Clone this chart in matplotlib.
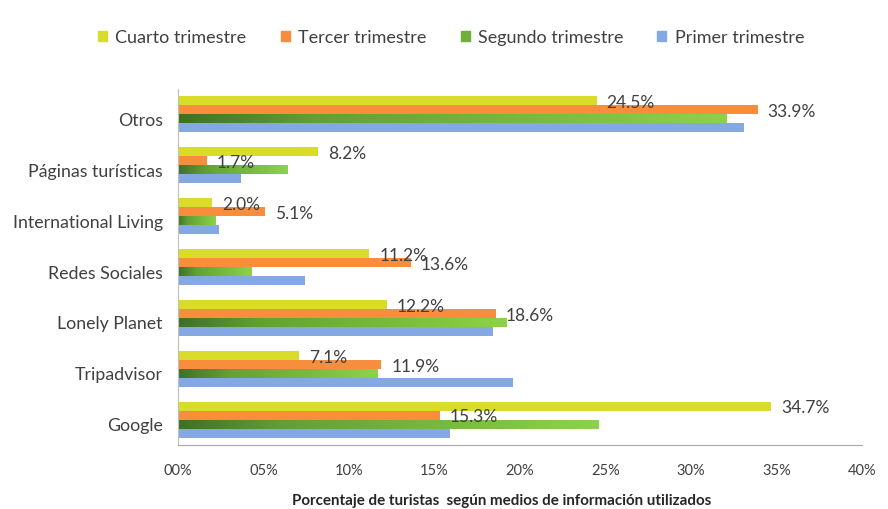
import matplotlib
matplotlib.use("Agg")
import matplotlib.pyplot as plt
import numpy as np
from matplotlib.colors import LinearSegmentedColormap
from matplotlib.patches import Patch

plt.rcParams['font.family'] = ['Lato', 'DejaVu Sans']

# categorias de abajo hacia arriba
categorias = ['Google', 'Tripadvisor', 'Lonely Planet', 'Redes Sociales',
              'International Living', 'Páginas turísticas', 'Otros']
cuarto = [34.7, 7.1, 12.2, 11.2, 2.0, 8.2, 24.5]
tercer = [15.3, 11.9, 18.6, 13.6, 5.1, 1.7, 33.9]
segundo = [24.6, 11.7, 19.2, 4.3, 2.2, 6.4, 32.1]
primer = [15.9, 19.6, 18.4, 7.4, 2.4, 3.7, 33.1]
ticks_x = [0, 5, 10, 15, 20, 25, 30, 35, 40]

amarillo = '#D9DC28'
naranja = '#F68E3E'
verde = '#6FAE3A'
azul = '#84A9E2'
gris_txt = '#404040'

fig = plt.figure(figsize=(8.88, 5.10), dpi=100)
ax = fig.add_axes([0.2005, 0.1255, 0.770, 0.698])

y = np.arange(len(categorias))
h = 0.177

b_cuarto = ax.barh(y + 1.5 * h, cuarto, height=h, color=amarillo)
b_tercer = ax.barh(y + 0.5 * h, tercer, height=h, color=naranja)
b_segundo = ax.barh(y - 0.5 * h, segundo, height=h, color='none')
b_primer = ax.barh(y - 1.5 * h, primer, height=h, color=azul)

# relleno degradado del segundo trimestre (oscuro a la izquierda)
cmap_verde = LinearSegmentedColormap.from_list(
    'verde', [(0, '#3F7026'), (0.25, '#62A035'), (1, '#8DD24A')])
grad = np.linspace(0, 1, 256).reshape(1, -1)
for p in b_segundo.patches:
    x0, y0 = p.get_x(), p.get_y()
    w, hh = p.get_width(), p.get_height()
    im = ax.imshow(grad, cmap=cmap_verde, aspect='auto',
                   extent=(x0, x0 + w, y0, y0 + hh), zorder=2)
    im.set_clip_path(p)

# etiquetas de datos
for barras, vals in [(b_cuarto, cuarto), (b_tercer, tercer)]:
    for p, v in zip(barras.patches, vals):
        ax.annotate(f'{v:.1f}%', (p.get_width(), p.get_y() + p.get_height() / 2),
                    xytext=(7, -1), textcoords='offset points',
                    va='center', ha='left', fontsize=12.5, color=gris_txt, zorder=5)

ax.set_xlim(0, 40)
ax.set_ylim(-0.5, len(categorias) - 0.5)
ax.set_xticks(ticks_x)
ax.set_xticklabels([f'{t:02d}%' for t in ticks_x])
ax.set_yticks(y - 0.08)
ax.set_yticklabels(categorias)
ax.tick_params(axis='x', length=0, labelsize=10.5, labelcolor=gris_txt, pad=13)
ax.tick_params(axis='y', length=0, labelsize=12.8, labelcolor=gris_txt, pad=11)

for s in ['top', 'right']:
    ax.spines[s].set_visible(False)
ax.spines['left'].set_color('#BFBFBF')
ax.spines['bottom'].set_color('#A6A6A6')

ax.set_xlabel('Porcentaje de turistas  según medios de información utilizados',
              fontsize=10.9, fontweight='bold', color='#262626', labelpad=8)
ax.xaxis.set_label_coords(0.473, -0.135)

handles = [Patch(color=amarillo, label='Cuarto trimestre'),
           Patch(color=naranja, label='Tercer trimestre'),
           Patch(color=verde, label='Segundo trimestre'),
           Patch(color=azul, label='Primer trimestre')]
fig.legend(handles=handles, loc='center', bbox_to_anchor=(0.508, 0.925), ncol=4,
           frameon=False, handlelength=0.5, handleheight=0.5, handletextpad=0.45,
           columnspacing=1.9, fontsize=13, labelcolor=gris_txt)

fig.savefig('out.png', dpi=100)
